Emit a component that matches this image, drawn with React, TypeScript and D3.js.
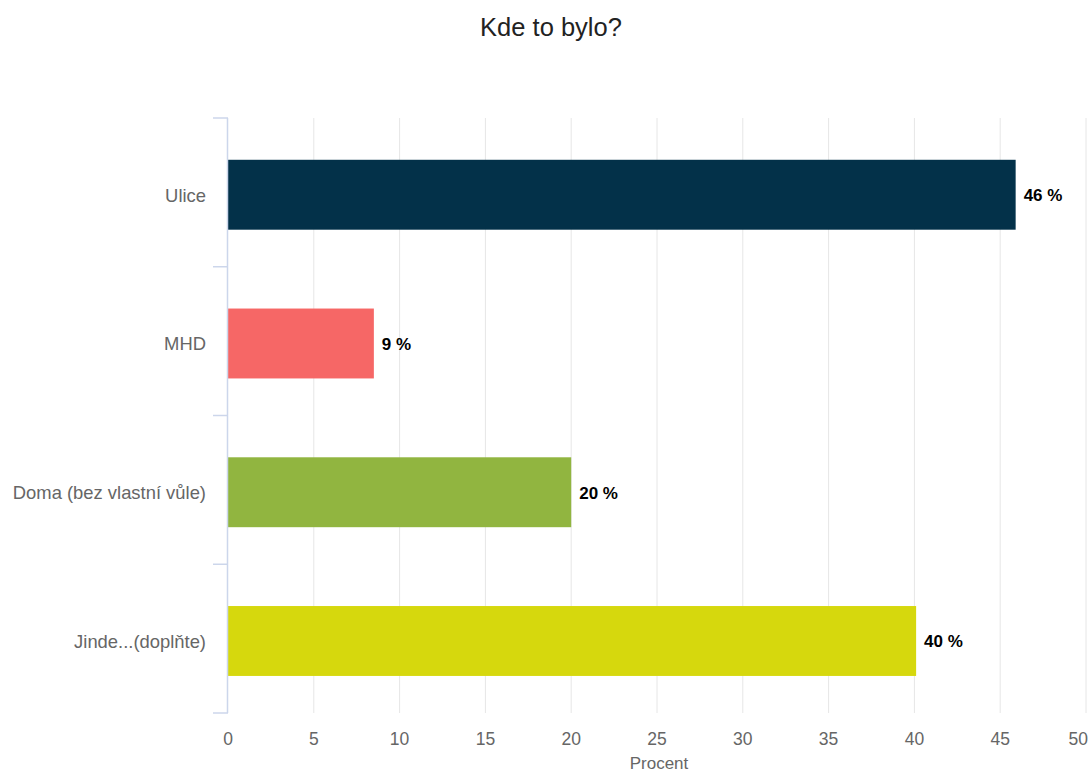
import React from "react";
import * as d3 from "d3";

const categories = ["Ulice", "MHD", "Doma (bez vlastní vůle)", "Jinde...(doplňte)"];
const values = [45.9, 8.5, 20.0, 40.1];
const valueLabels = ["46 %", "9 %", "20 %", "40 %"];
const colors = ["#033149", "#f66766", "#91b540", "#d6d80d"];
const xTicks = [0, 5, 10, 15, 20, 25, 30, 35, 40, 45, 50];
const title = "Kde to bylo?";
const xTitle = "Procent";

const W = 1088;
const H = 773;
const left = 228;
const right = 1086;
const top = 118;
const bottom = 713;
const font = "'Liberation Sans', Arial, sans-serif";

export default function App() {
  const x = d3.scaleLinear().domain([0, 50]).range([left, right]);
  const y = d3
    .scaleBand<string>()
    .domain(categories)
    .range([top, bottom])
    .paddingInner(0.53)
    .paddingOuter(0.265)
    .align(0.53);
  const band = (bottom - top) / categories.length;
  const bounds = d3.range(categories.length + 1).map((i) => top + i * band);

  return (
    <div style={{ position: "fixed", left: 0, top: 0, width: W, height: H, background: "#fff" }}>
      <svg width={W} height={H} style={{ display: "block", fontFamily: font }}>
        <rect width={W} height={H} fill="#fff" />
        <text x={551} y={36} textAnchor="middle" fontSize={25.5} fill="#222">{title}</text>
        {xTicks.slice(1).map((t) => (
          <line key={t} x1={x(t)} x2={x(t)} y1={top} y2={bottom} stroke="#e6e6e6" strokeWidth={1} />
        ))}
        {categories.map((c, i) => (
          <g key={c}>
            <rect x={x(0)} y={y(c)!} width={x(values[i]) - x(0)} height={y.bandwidth()} fill={colors[i]} />
            <text x={x(values[i]) + 8} y={y(c)! + y.bandwidth() / 2 + 6.5} fontSize={17} fontWeight="bold" fill="#000">{valueLabels[i]}</text>
            <text x={206} y={(y(c) ?? 0) + y.bandwidth() / 2 + 7} textAnchor="end" fontSize={18.4} fill="#666">{c}</text>
          </g>
        ))}
        <line x1={left - 0.5} x2={left - 0.5} y1={top} y2={bottom} stroke="#ccd6eb" strokeWidth={1.5} />
        {bounds.map((b, i) => (
          <line key={i} x1={left - 15} x2={left} y1={b} y2={b} stroke="#ccd6eb" strokeWidth={1.5} />
        ))}
        {xTicks.map((t, i) => (
          <text key={t} x={i === xTicks.length - 1 ? W : x(t)} y={745} textAnchor={i === xTicks.length - 1 ? "end" : "middle"} fontSize={17.5} fill="#666">{t}</text>
        ))}
        <text x={659} y={769} textAnchor="middle" fontSize={17} fill="#666">{xTitle}</text>
      </svg>
    </div>
  );
}
